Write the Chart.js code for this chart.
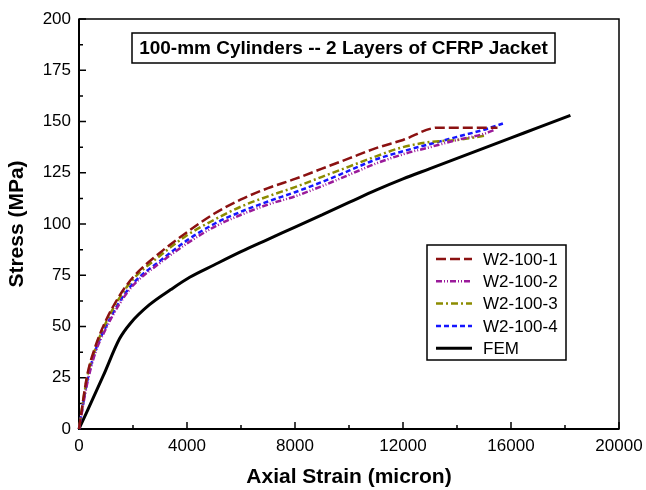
<!DOCTYPE html>
<html>
<head>
<meta charset="utf-8">
<script src="https://cdn.jsdelivr.net/npm/chart.js@4.4.1/dist/chart.umd.min.js"></script>
<style>
  html, body { margin: 0; padding: 0; background: #fff; }
</style>
</head>
<body>
<canvas id="stressChart" width="646" height="490"></canvas>
<script>
const chartTitle = "100-mm Cylinders -- 2 Layers of CFRP Jacket";
const xTitle = "Axial Strain (micron)";
const yTitle = "Stress (MPa)";

const seriesNames = ["W2-100-1", "W2-100-2", "W2-100-3", "W2-100-4", "FEM"];

// axial strain (micron) / stress (MPa) for each test and the FE model
const strainW1 = [0, 300, 600, 1000, 1500, 2000, 3000, 4000, 5000, 6000, 7000, 8000, 9000, 10000, 11000, 12000, 13300, 15500];
const stressW1 = [0, 26, 40, 53, 65, 74, 86, 96, 105, 112, 117.5, 122, 127, 132, 137, 141, 147, 147];

const strainW2 = [0, 300, 600, 1000, 1500, 2000, 3000, 4000, 5000, 6000, 7000, 8000, 9000, 10000, 11000, 12000, 13000, 14000, 15000, 15400];
const stressW2 = [0, 22, 37, 49, 61, 70, 81, 90.5, 98.5, 104.5, 109.5, 113.5, 118.5, 124, 129.5, 134, 137.5, 141, 144, 146];

const strainW3 = [0, 300, 600, 1000, 1500, 2000, 3000, 4000, 5000, 6000, 7000, 8000, 9000, 10000, 11000, 12000, 13000, 14000, 15000];
const stressW3 = [0, 25, 39, 52, 64, 73, 84.5, 94.5, 102, 108.5, 113.5, 118, 123, 128, 133, 137.5, 140, 141, 143];

const strainW4 = [0, 300, 600, 1000, 1500, 2000, 3000, 4000, 5000, 6000, 7000, 8000, 9000, 10000, 11000, 12000, 13000, 14000, 15000, 15700];
const stressW4 = [0, 23, 38, 50, 62, 71, 82, 92, 100, 106, 111, 115.5, 120.5, 126, 131.5, 135.5, 139, 142.5, 146, 149];

const strainFEM = [0, 900, 1500, 1900, 2600, 3400, 4100, 5000, 6000, 7000, 8000, 9000, 10000, 11000, 12000, 13000, 14000, 15000, 16000, 17000, 18200];
const stressFEM = [0, 26, 44, 51.5, 60.5, 68, 74, 80, 86.5, 92.5, 98.5, 104.5, 110.5, 116.5, 122, 127, 132, 137, 142, 147, 153];

const xTicks = [0, 4000, 8000, 12000, 16000, 20000];
const yTicks = [0, 25, 50, 75, 100, 125, 150, 175, 200];

const lineColors = ["#8b1111", "#9a1a9a", "#8c8c00", "#1515ff", "#000000"];
const lineDashes = [[10, 4], [6, 2, 1, 2, 1, 2], [7, 3, 2, 3], [5, 3], []];
const lineWidths = [2.5, 2.5, 2.5, 2.5, 3];

const FONT = "'Liberation Sans', Arial, sans-serif";

function toPoints(xs, ys) {
  const pts = [];
  for (let i = 0; i < xs.length; i++) {
    pts.push({ x: xs[i], y: ys[i] });
  }
  return pts;
}

const allStrains = [strainW1, strainW2, strainW3, strainW4, strainFEM];
const allStresses = [stressW1, stressW2, stressW3, stressW4, stressFEM];

const datasets = [];
for (let i = 0; i < seriesNames.length; i++) {
  datasets.push({
    label: seriesNames[i],
    data: toPoints(allStrains[i], allStresses[i]),
    borderColor: lineColors[i],
    borderDash: lineDashes[i],
    borderWidth: lineWidths[i],
    pointRadius: 0,
    fill: false,
    cubicInterpolationMode: "monotone",
    clip: 4,
  });
}
// FEM goes underneath the test curves
datasets[4].order = 1;

// frame, inward tick marks, title box and legend box
const decorPlugin = {
  id: "decor",
  beforeDatasetsDraw(chart) {
    const ctx = chart.ctx;
    const a = chart.chartArea;
    const xs = chart.scales.x;
    const ys = chart.scales.y;
    ctx.save();
    ctx.strokeStyle = "#000";
    ctx.lineWidth = 1.5;
    ctx.strokeRect(a.left, a.top, a.right - a.left, a.bottom - a.top);
    ctx.lineWidth = 2;
    ctx.beginPath();
    ctx.moveTo(a.left, a.top);
    ctx.lineTo(a.left, a.bottom);
    ctx.lineTo(a.right, a.bottom);
    ctx.stroke();

    ctx.lineWidth = 1.5;
    ctx.beginPath();
    for (let v = 0; v <= 20000; v += 2000) {
      const px = xs.getPixelForValue(v);
      const len = v % 4000 === 0 ? 7 : 4;
      ctx.moveTo(px, a.bottom);
      ctx.lineTo(px, a.bottom - len);
    }
    for (let v = 0; v <= 200; v += 12.5) {
      const py = ys.getPixelForValue(v);
      const len = v % 25 === 0 ? 7 : 4;
      ctx.moveTo(a.left, py);
      ctx.lineTo(a.left + len, py);
    }
    ctx.stroke();
    ctx.restore();
  },
  afterDraw(chart) {
    const ctx = chart.ctx;
    const a = chart.chartArea;
    ctx.save();

    // title box
    const tx = a.left + 53;
    const ty = a.top + 14;
    ctx.fillStyle = "#fff";
    ctx.fillRect(tx, ty, 423, 30);
    ctx.strokeStyle = "#000";
    ctx.lineWidth = 1.5;
    ctx.strokeRect(tx, ty, 423, 30);
    ctx.fillStyle = "#000";
    ctx.font = "bold 19px " + FONT;
    ctx.textAlign = "center";
    ctx.textBaseline = "middle";
    ctx.fillText(chartTitle, tx + 423 / 2, ty + 16);

    // legend box
    const lx = a.left + 348;
    const ly = a.top + 226;
    const lw = 139;
    const lh = 115;
    ctx.fillStyle = "#fff";
    ctx.fillRect(lx, ly, lw, lh);
    ctx.strokeRect(lx, ly, lw, lh);
    ctx.font = "17px " + FONT;
    ctx.textAlign = "left";
    chart.data.datasets.forEach((ds, i) => {
      const rowY = ly + 14 + i * 22.3;
      ctx.strokeStyle = ds.borderColor;
      ctx.lineWidth = ds.borderWidth;
      ctx.setLineDash(ds.borderDash);
      ctx.beginPath();
      ctx.moveTo(lx + 9, rowY);
      ctx.lineTo(lx + 45, rowY);
      ctx.stroke();
      ctx.setLineDash([]);
      ctx.fillStyle = "#000";
      ctx.fillText(ds.label, lx + 56, rowY + 1);
    });
    ctx.restore();
  },
};

const ctx = document.getElementById("stressChart");

new Chart(ctx, {
  type: "line",
  data: { datasets: datasets },
  plugins: [decorPlugin],
  options: {
    responsive: false,
    animation: false,
    layout: { padding: { top: 19, right: 27, left: 0, bottom: 0 } },
    plugins: {
      legend: { display: false },
      tooltip: { enabled: false },
    },
    scales: {
      x: {
        type: "linear",
        min: 0,
        max: 20000,
        afterBuildTicks: (scale) => {
          scale.ticks = xTicks.map((v) => ({ value: v }));
        },
        afterFit: (scale) => {
          scale.height = 61;
          scale.paddingLeft = 0;
          scale.paddingRight = 0;
        },
        grid: { display: false, drawTicks: false },
        border: { display: false },
        ticks: {
          color: "#000",
          padding: 7,
          maxRotation: 0,
          autoSkip: false,
          font: { family: FONT, size: 17 },
          callback: (v) => String(v),
        },
        title: {
          display: true,
          text: xTitle,
          color: "#000",
          font: { family: FONT, size: 21, weight: "bold" },
          padding: { top: 0, bottom: 0 },
        },
      },
      y: {
        type: "linear",
        min: 0,
        max: 200,
        afterBuildTicks: (scale) => {
          scale.ticks = yTicks.map((v) => ({ value: v }));
        },
        afterFit: (scale) => {
          scale.width = 79;
          scale.paddingTop = 0;
          scale.paddingBottom = 0;
        },
        grid: { display: false, drawTicks: false },
        border: { display: false },
        ticks: {
          color: "#000",
          padding: 8,
          autoSkip: false,
          font: { family: FONT, size: 17 },
        },
        title: {
          display: true,
          text: yTitle,
          color: "#000",
          font: { family: FONT, size: 21, weight: "bold" },
          padding: { top: 5, bottom: 0 },
        },
      },
    },
  },
});
</script>
</body>
</html>
